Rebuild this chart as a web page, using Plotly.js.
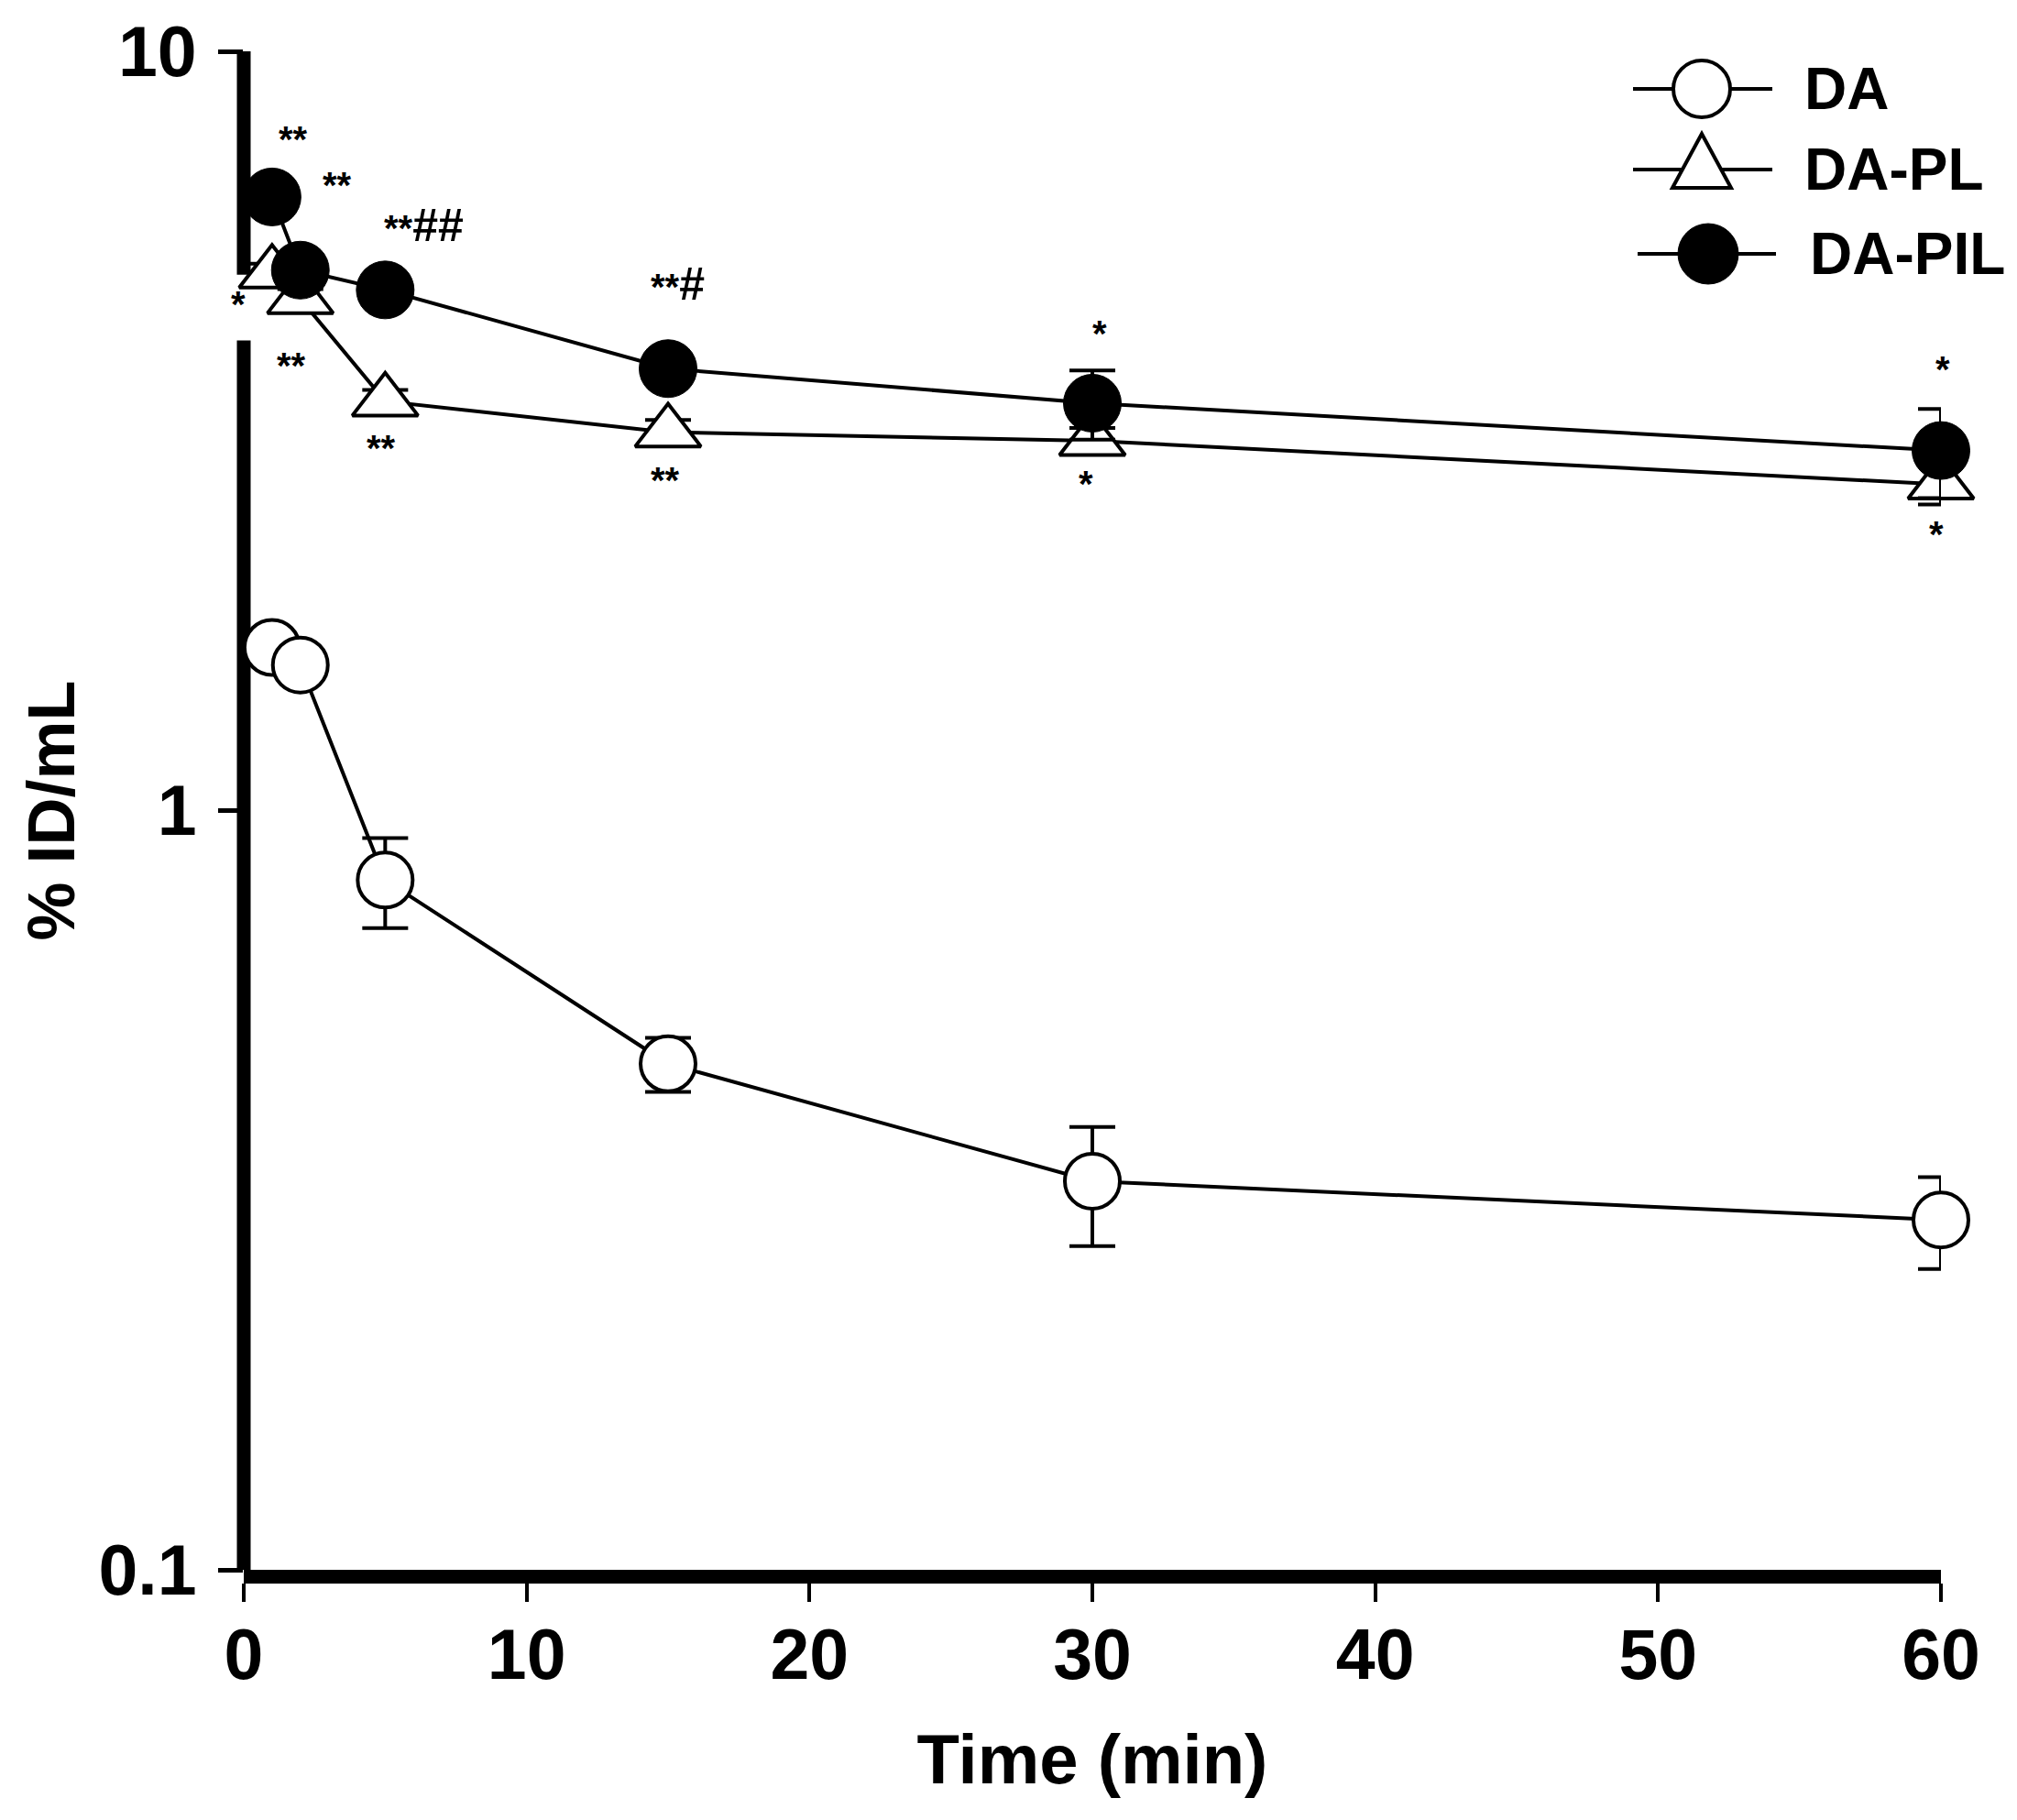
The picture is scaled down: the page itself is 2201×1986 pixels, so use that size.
<!DOCTYPE html>
<html>
<head>
<meta charset="utf-8">
<script src="https://cdn.plot.ly/plotly-3.0.1.min.js"></script>
<style>
html,body{margin:0;padding:0;background:#fff;}
#chart{width:2201px;height:1986px;}
</style>
</head>
<body>
<div id="chart"></div>
<script>
// ---- data ----
const timeMin = [1, 2, 5, 15, 30, 60];

const daMean  = [1.64, 1.555, 0.81, 0.464, 0.325, 0.289];
const daErr   = [0.04, 0.04, 0.11, 0.038, 0.058, 0.04];

const plMean  = [5.1, 4.72, 3.46, 3.15, 3.07, 2.69];
const plErr   = [0.15, 0.14, 0.12, 0.12, 0.12, 0.16];

const pilMean = [6.43, 5.15, 4.85, 3.82, 3.44, 2.98];
const pilErr  = [0.15, 0.15, 0.12, 0.12, 0.36, 0.40];

const seriesNames = ['DA', 'DA-PL', 'DA-PIL'];

const xTickVals = [0, 10, 20, 30, 40, 50, 60];

// significance marks (stars vs. control, hashes vs. DA-PL)
const sigStars  = ['**', '**', '**', '*', '**', '**', '**', '**', '*', '*', '*', '*'];
const sigHashes = ['', '', '##', '', '', '', '#', '', '', '', '', ''];
const sigX      = [1.75, 3.30, 6.35, -0.19, 1.68, 4.86, 15.35, 14.9, 30.26, 29.77, 60.06, 59.83];
const sigY      = [7.66, 6.67, 5.89, 4.65, 3.85, 3.00, 4.94, 2.72, 4.25, 2.69, 3.81, 2.31];

// ---- styles ----
const FONT = '"Liberation Sans", Arial, Helvetica, sans-serif';
const LINE_W = 4;
const X_MIN = 0, X_MAX = 60;
const M = {l: 266, r: 83, t: 56, b: 273};
const PLOT_W = 2201 - M.l - M.r;
const PLOT_H = 1986 - M.t - M.b;
const PX_PER_X = PLOT_W / (X_MAX - X_MIN);
const pxToPaperX = px => (px - M.l) / PLOT_W;
const pxToPaperY = py => 1 - (py - M.t) / PLOT_H;

function errBar(arr) {
  return {type: 'data', array: arr, visible: true, color: '#000', thickness: 4, width: 25};
}

const traces = [
  {
    x: timeMin, y: daMean, name: seriesNames[0], type: 'scatter', mode: 'lines+markers',
    line: {color: '#000', width: LINE_W},
    marker: {symbol: 'circle', size: 60, color: '#fff', line: {color: '#000', width: 4}},
    error_y: errBar(daErr), cliponaxis: false
  },
  {
    x: timeMin, y: plMean, name: seriesNames[1], type: 'scatter', mode: 'lines+markers',
    line: {color: '#000', width: LINE_W},
    marker: {symbol: 'triangle-up', size: 62, color: '#fff', line: {color: '#000', width: 4}},
    error_y: errBar(plErr), cliponaxis: false
  },
  {
    x: timeMin, y: pilMean, name: seriesNames[2], type: 'scatter', mode: 'lines+markers',
    line: {color: '#000', width: LINE_W},
    marker: {symbol: 'circle', size: 63, color: '#000', line: {color: '#000', width: 1}},
    error_y: errBar(pilErr), cliponaxis: false
  }
];

const annotations = sigStars.map((s, i) => {
  const xc = Math.min(X_MAX, Math.max(X_MIN, sigX[i]));
  const txt = sigHashes[i] ? s + '<span style="font-size:50px">' + sigHashes[i] + '</span>' : s;
  return {
    x: xc, xshift: (sigX[i] - xc) * PX_PER_X,
    y: Math.log10(sigY[i]), xref: 'x', yref: 'y',
    text: txt, showarrow: false, xanchor: 'center', yanchor: 'middle',
    font: {family: FONT, size: 40, color: '#000', weight: 'bold'}
  };
});

// custom legend (long line keys as in the reference), pixel positions
const legendRows = [
  {y: 97,  xl0: 1782, xl1: 1934, xm: 1857, xt: 1967, sym: 'open-circle'},
  {y: 185, xl0: 1782, xl1: 1934, xm: 1857, xt: 1967, sym: 'triangle'},
  {y: 277, xl0: 1787, xl1: 1938, xm: 1864, xt: 1973, sym: 'filled-circle'}
];

const shapes = [];
// y-axis line drawn in two pieces (break as in the reference)
shapes.push({type: 'line', xref: 'paper', yref: 'y', x0: 0, x1: 0, y0: 10.17, y1: 5.08,
             line: {color: '#000', width: 15}, layer: 'below'});
shapes.push({type: 'line', xref: 'paper', yref: 'y', x0: 0, x1: 0, y0: 4.16, y1: 0.099,
             line: {color: '#000', width: 15}, layer: 'below'});

legendRows.forEach((r, i) => {
  const yp = pxToPaperY(r.y);
  shapes.push({type: 'line', xref: 'paper', yref: 'paper',
               x0: pxToPaperX(r.xl0), x1: pxToPaperX(r.xl1), y0: yp, y1: yp,
               line: {color: '#000', width: 4}, layer: 'above'});
  if (r.sym === 'triangle') {
    shapes.push({type: 'path', xref: 'paper', yref: 'paper', xsizemode: 'pixel', ysizemode: 'pixel',
                 xanchor: pxToPaperX(r.xm), yanchor: yp, path: 'M-32,-20 L32,-20 L0,39 Z',
                 fillcolor: '#fff', line: {color: '#000', width: 4}, layer: 'above'});
  } else {
    const filled = r.sym === 'filled-circle';
    const rad = filled ? 33 : 31;
    shapes.push({type: 'circle', xref: 'paper', yref: 'paper', xsizemode: 'pixel', ysizemode: 'pixel',
                 xanchor: pxToPaperX(r.xm), yanchor: yp, x0: -rad, x1: rad, y0: -rad, y1: rad,
                 fillcolor: filled ? '#000' : '#fff', line: {color: '#000', width: filled ? 1 : 4}, layer: 'above'});
  }
  annotations.push({x: pxToPaperX(r.xt), y: yp, xref: 'paper', yref: 'paper', text: seriesNames[i],
                    showarrow: false, xanchor: 'left', yanchor: 'middle',
                    font: {family: FONT, size: 64, color: '#000', weight: 'bold'}});
});

const layout = {
  width: 2201, height: 1986,
  margin: {l: M.l, r: M.r, t: M.t, b: M.b, pad: 0},
  paper_bgcolor: '#fff', plot_bgcolor: '#fff',
  showlegend: false,
  font: {family: FONT, color: '#000'},
  xaxis: {
    range: [X_MIN, X_MAX], tickvals: xTickVals, ticktext: xTickVals.map(String),
    showline: true, linecolor: '#000', linewidth: 15,
    ticks: 'outside', ticklen: 20, tickwidth: 4, tickcolor: '#000',
    showgrid: false, zeroline: false,
    tickfont: {family: FONT, size: 77, color: '#000', weight: 'bold'},
    ticklabelstandoff: -8,
    title: {text: 'Time (min)', font: {family: FONT, size: 76, color: '#000', weight: 'bold'}, standoff: 52},
    automargin: false
  },
  yaxis: {
    type: 'log', range: [-1, 1], dtick: 1,
    showline: false,
    ticks: 'outside', ticklen: 27, tickwidth: 5, tickcolor: '#000',
    showgrid: false, zeroline: false,
    tickfont: {family: FONT, size: 77, color: '#000', weight: 'bold'},
    ticklabelstandoff: 8,
    title: {text: '% ID/mL', font: {family: FONT, size: 72, color: '#000', weight: 'bold'}, standoff: 2},
    automargin: false
  },
  shapes: shapes,
  annotations: annotations
};

Plotly.newPlot('chart', traces, layout, {displayModeBar: false, staticPlot: true});
</script>
</body>
</html>
